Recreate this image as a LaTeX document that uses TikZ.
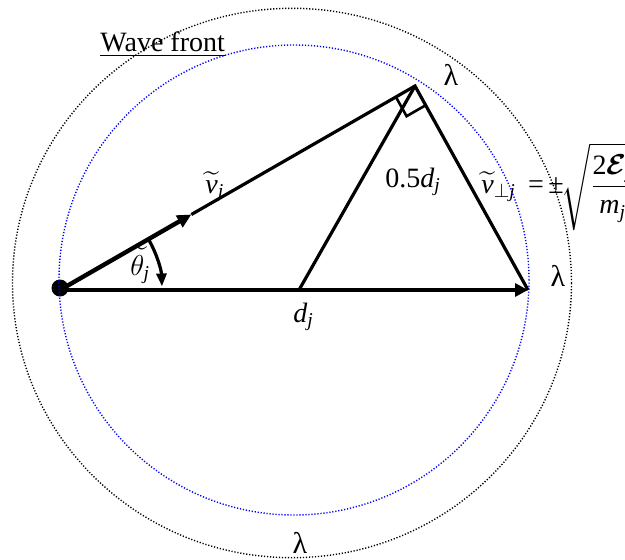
\documentclass[tikz,border=0pt]{standalone}
\usepackage{amsmath}
\usepackage{fontspec}
\setmainfont{Liberation Serif}
\usetikzlibrary{arrows.meta,calc}
\begin{document}
\begin{tikzpicture}[x=0.5pt,y=0.5pt,
  vec/.style={line width=1.6pt, line join=miter},
  thickvec/.style={line width=2.2pt},
  sq/.style={line width=1.3pt},
  dotblack/.style={black, line width=0.7pt, dash pattern=on 0.6pt off 0.9pt},
  dotblue/.style={blue, line width=0.7pt, dash pattern=on 0.6pt off 0.9pt},
  lbl/.style={inner sep=0pt, font=\fontsize{14}{16}\selectfont},
  lam/.style={inner sep=0pt, font=\fontsize{15}{17}\selectfont},
  tipbig/.tip={Triangle[length=6.5pt,width=6.5pt]},
  tipmid/.tip={Triangle[length=7pt,width=6.5pt]},
  tiparc/.tip={Triangle[length=6.5pt,width=5pt]}]
\useasboundingbox (0,0) rectangle (625,559);
\clip (0,0) rectangle (625,559);

% key points
\coordinate (O) at (60,269);
\coordinate (T) at (528,269);
\coordinate (A) at (415,473);
\coordinate (M) at (299,269);
\coordinate (P) at (191.35,344.5);
\coordinate (s1) at (395.9,462);
\coordinate (s3) at (406.6,442.8);
\coordinate (s2) at (425.7,453.8);
\coordinate (arcstart) at ($(O)+(30:102)$);

% source dot
\fill (60,271) circle[radius=8.5];

% vectors
\draw[vec, -tipbig] (O) -- (T);
\draw[thickvec, -tipmid] (O) -- (P);
\draw[vec] (P) -- (A) -- (T);
\draw[vec] (M) -- (A);
\draw[sq] (s1) -- (s3) -- (s2);
\draw[vec, -tiparc] (arcstart) arc[start angle=30, end angle=2, radius=102];

% labels
\node[lbl, anchor=base west] (wf) at (100,507.3) {Wave front};
\draw[line width=0.65pt] ([yshift=-2pt]wf.base west) -- ([yshift=-2pt]wf.base east);
\node[lam] (lam1) at (451,484) {λ};
\node[lam] (lam2) at (558,283) {λ};
\node[lam] (lam3) at (300,16) {λ};
\node[lbl, anchor=base west] (vj) at (205,366) {$\widetilde{\mathit{v}}_{\mathit{j}}$};
\node[lbl, anchor=base west] (thj) at (130,284) {$\widetilde{\theta}_{\mathit{j}}$};
\node[lbl, anchor=base west] (dj) at (293,237) {$\mathit{d}_{\mathit{j}}$};
\node[lbl, anchor=base west] (half) at (385,372) {0.5$\mathit{d}_{\mathit{j}}$};
\node[lbl, anchor=base west] (vperp) at (481,366) {$\widetilde{\mathit{v}}_{\perp\mathit{j}}$};
\node[lbl] (eq) at (536,372) {=};
\node[lbl] (pm) at (556,373) {±};
\node[lbl, anchor=base west] (root) at (561,365) {$\sqrt{\dfrac{\mathrm{2}\boldsymbol{\mathcal{E}}_{\mathit{j}}}{\mathit{m}_{\mathit{j}}}}$};

% wave fronts
\draw[dotblack] (292,276) ellipse[x radius=279.5, y radius=274.7];
\draw[dotblue] (294,279) circle[radius=235];
\end{tikzpicture}
\end{document}
